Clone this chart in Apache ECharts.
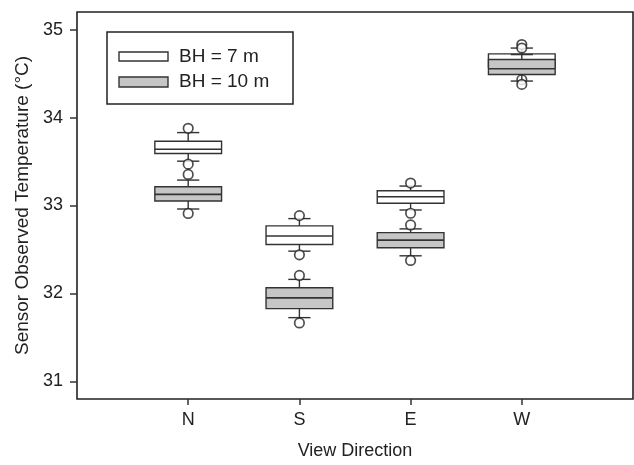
<!DOCTYPE html>
<html>
<head>
<meta charset="utf-8">
<script src="https://cdn.jsdelivr.net/npm/echarts@6/dist/echarts.min.js"></script>
<style>html,body{margin:0;padding:0;background:#fff;}#c{width:634px;height:465px;}</style>
</head>
<body>
<div id="c"></div>
<script>
// Categories (view directions) and their x positions
const categories = ['N', 'S', 'E', 'W'];
const positions = [1, 2, 3, 4];
const yTicks = [31, 32, 33, 34, 35];

// Box statistics: [low whisker, Q1, median, Q3, high whisker]
const bh7Stats = [
  [33.504, 33.592, 33.640, 33.731, 33.829],
  [32.481, 32.556, 32.654, 32.768, 32.851],
  [32.949, 33.025, 33.100, 33.168, 33.221],
  [34.520, 34.570, 34.640, 34.724, 34.790]
];
const bh10Stats = [
  [32.960, 33.051, 33.127, 33.213, 33.289],
  [31.725, 31.827, 31.950, 32.065, 32.160],
  [32.428, 32.519, 32.606, 32.692, 32.734],
  [34.415, 34.490, 34.555, 34.660, 34.716]
];
// Outliers: [category index, value]
const bh7Outliers = [
  [0, 33.878], [0, 33.470],
  [1, 32.885], [1, 32.439],
  [2, 33.255], [2, 32.912],
  [3, 34.830], [3, 34.430]
];
const bh10Outliers = [
  [0, 33.353], [0, 32.910],
  [1, 32.205], [1, 31.665],
  [2, 32.779], [2, 32.375],
  [3, 34.790], [3, 34.377]
];

const FONT = "'Liberation Sans', Arial, Helvetica, sans-serif";
const EDGE = '#333333';

function boxData(stats) {
  return stats.map((s, i) => [positions[i]].concat(s));
}
function outData(outs) {
  return outs.map(o => [positions[o[0]], o[1]]);
}
function makeRender(fill) {
  return function (params, api) {
    const x = api.value(0);
    const low = api.coord([x, api.value(1)]);
    const q1 = api.coord([x, api.value(2)]);
    const med = api.coord([x, api.value(3)]);
    const q3 = api.coord([x, api.value(4)]);
    const high = api.coord([x, api.value(5)]);
    const hw = api.size([0.6, 0])[0] / 2;
    const cw = api.size([0.2, 0])[0] / 2;
    const ls = { stroke: EDGE, lineWidth: 1.4 };
    return {
      type: 'group',
      children: [
        { type: 'line', shape: { x1: low[0], y1: low[1], x2: q1[0], y2: q1[1] }, style: ls },
        { type: 'line', shape: { x1: q3[0], y1: q3[1], x2: high[0], y2: high[1] }, style: ls },
        { type: 'line', shape: { x1: low[0] - cw, y1: low[1], x2: low[0] + cw, y2: low[1] }, style: ls },
        { type: 'line', shape: { x1: high[0] - cw, y1: high[1], x2: high[0] + cw, y2: high[1] }, style: ls },
        { type: 'rect', shape: { x: q3[0] - hw, y: q3[1], width: 2 * hw, height: q1[1] - q3[1] },
          style: { fill: fill, stroke: EDGE, lineWidth: 1.4 } },
        { type: 'line', shape: { x1: med[0] - hw, y1: med[1], x2: med[0] + hw, y2: med[1] }, style: { stroke: EDGE, lineWidth: 1.6 } }
      ]
    };
  };
}

const chart = echarts.init(document.getElementById('c'), null, { renderer: 'canvas' });
chart.setOption({
  backgroundColor: '#fff',
  animation: false,
  textStyle: { fontFamily: FONT },
  grid: { left: 77, right: 1, top: 12, bottom: 65, show: true, borderColor: '#222', borderWidth: 1.6, backgroundColor: 'transparent' },
  xAxis: {
    type: 'value', min: 0, max: 5, interval: 1,
    name: 'View Direction', nameLocation: 'middle', nameGap: 43,
    nameTextStyle: { fontSize: 18, color: '#222', fontFamily: FONT },
    axisLine: { show: false },
    axisTick: { show: true, length: 6, lineStyle: { color: '#333', width: 1.5 }, customValues: positions },
    axisLabel: { fontSize: 18, color: '#222', margin: 12, fontFamily: FONT, customValues: positions,
      formatter: v => categories[positions.indexOf(v)] || '' },
    splitLine: { show: false }
  },
  yAxis: {
    type: 'value', min: 30.8, max: 35.2,
    name: 'Sensor Observed Temperature (\u00B0C)', nameLocation: 'middle', nameGap: 41, nameRotate: 90,
    nameTextStyle: { fontSize: 19, color: '#222', fontFamily: FONT },
    axisLine: { show: false },
    axisTick: { show: true, length: 7, lineStyle: { color: '#333', width: 1.5 }, customValues: yTicks },
    axisLabel: { fontSize: 18, color: '#222', margin: 14, fontFamily: FONT, customValues: yTicks },
    splitLine: { show: false }
  },
  series: [
    { type: 'custom', name: 'BH = 7 m', z: 2, renderItem: makeRender('#ffffff'), data: boxData(bh7Stats) },
    { type: 'scatter', z: 3, symbol: 'circle', symbolSize: 9.5, data: outData(bh7Outliers),
      itemStyle: { color: '#fff', borderColor: '#222', borderWidth: 1.7 } },
    { type: 'custom', name: 'BH = 10 m', z: 4, renderItem: makeRender('#c6c6c6'), data: boxData(bh10Stats) },
    { type: 'scatter', z: 5, symbol: 'circle', symbolSize: 9.5, data: outData(bh10Outliers),
      itemStyle: { color: '#fff', borderColor: '#222', borderWidth: 1.7 } }
  ],
  graphic: [
    { type: 'rect', z: 100, shape: { x: 107, y: 32, width: 186, height: 72 }, style: { fill: '#fff', stroke: '#222', lineWidth: 1.5 } },
    { type: 'rect', z: 101, shape: { x: 119, y: 52, width: 49, height: 9 }, style: { fill: '#fff', stroke: EDGE, lineWidth: 1.4 } },
    { type: 'rect', z: 101, shape: { x: 119, y: 77, width: 49, height: 10 }, style: { fill: '#c6c6c6', stroke: EDGE, lineWidth: 1.4 } },
    { type: 'text', z: 101, x: 179, y: 57, style: { text: 'BH = 7 m', font: '19px ' + FONT, fill: '#222', verticalAlign: 'middle' } },
    { type: 'text', z: 101, x: 179, y: 82, style: { text: 'BH = 10 m', font: '19px ' + FONT, fill: '#222', verticalAlign: 'middle' } }
  ]
});
</script>
</body>
</html>
